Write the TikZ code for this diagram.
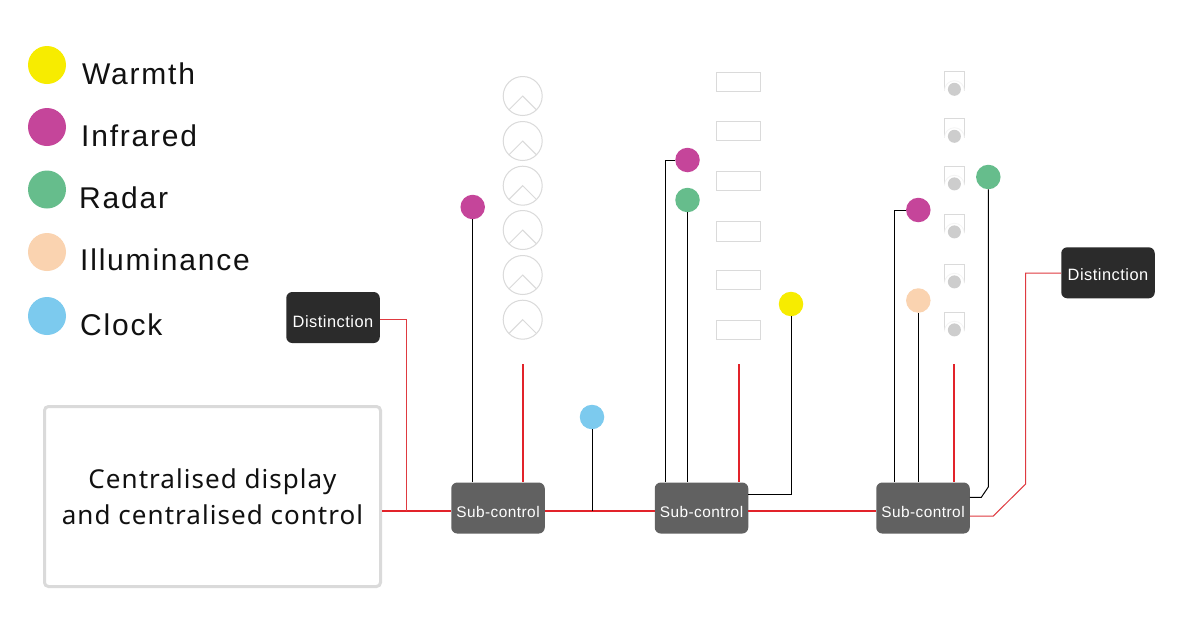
\documentclass[tikz,border=0pt]{standalone}
\usepackage{fontspec}
\setmainfont{Liberation Sans}
\newfontfamily\legendfont[LetterSpace=6]{Liberation Sans}
\newfontfamily\centralfont[LetterSpace=4]{Noto Sans}
\newfontfamily\boxfont[LetterSpace=3]{Liberation Sans}
\definecolor{cMag}{HTML}{C5459A}
\definecolor{cGrn}{HTML}{66BD8C}
\definecolor{cYel}{HTML}{F7EC00}
\definecolor{cPch}{HTML}{FAD3B0}
\definecolor{cBlu}{HTML}{7CCAEE}
\definecolor{cRed}{HTML}{E2232A}
\definecolor{cThin}{HTML}{DF3A40}
\definecolor{cGhost}{HTML}{DADADA}
\definecolor{cSub}{HTML}{616161}
\definecolor{cDark}{HTML}{2B2B2B}
\definecolor{cTxt}{HTML}{111111}
\newcommand{\droptext}[2]{\smash{\raisebox{-#1pt}{#2}}}
\tikzset{
  dot/.style={circle,inner sep=0pt,minimum size=24.5pt,fill=#1},
  legdot/.style={circle,inner sep=0pt,minimum size=38pt,fill=#1},
  legtxt/.style={anchor=base west,inner sep=0pt,text=cTxt,font=\legendfont\fontsize{30}{34}\selectfont},
  subbox/.style={rectangle,rounded corners=6pt,fill=cSub,minimum width=93.5pt,minimum height=51pt,inner sep=0pt,text=white,font=\boxfont\fontsize{15.4}{17}\selectfont},
  disbox/.style={rectangle,rounded corners=6pt,fill=cDark,minimum width=93.5pt,minimum height=51pt,inner sep=0pt,text=white,font=\boxfont\fontsize{16.4}{17}\selectfont},
  bus/.style={cRed,line width=2pt},
  thin red/.style={cThin,line width=1pt},
  wire/.style={black,line width=1pt},
  ghost/.style={cGhost,line width=1pt},
}
\newcommand{\lampicon}[2]{%
  \draw[ghost] (#1,#2) circle (19.5);
  \draw[ghost] (#1-13.8,#2+13.8) -- (#1,#2) -- (#1+13.8,#2+13.8);
}
\newcommand{\panelicon}[2]{%
  \draw[ghost] (#1-10,#2+19) -- (#1-10,#2) -- (#1+10,#2) -- (#1+10,#2+19);
  \draw[cGhost!30,line width=0.8pt] (#1-10,#2+19) arc[start angle=180,end angle=360,radius=10];
  \fill[cGhost!85!gray] (#1,#2+17.6) circle (6.5);
}
\begin{document}
\begin{tikzpicture}[x=1pt,y=-1pt]
\useasboundingbox (0,0) rectangle (1195,627);
\fill[white] (0,0) rectangle (1195,627);
% legend
\node[legdot=cYel] (lw) at (47,65) {};
\node[legdot=cMag] (li) at (47,127) {};
\node[legdot=cGrn] (lr) at (47,189.5) {};
\node[legdot=cPch] (ll) at (47,252) {};
\node[legdot=cBlu] (lc) at (47,316) {};
\node[legtxt] (tw) at (82,84) {Warmth};
\node[legtxt] (ti) at (81,146) {Infrared};
\node[legtxt] (tr) at (79,208) {Radar};
\node[legtxt] (tl) at (80,270) {Illuminance};
\node[legtxt] (tc) at (80,335) {Clock};
% main boxes
\node[draw=cGhost,line width=3pt,rounded corners=4pt,minimum width=336pt,minimum height=180pt,inner sep=0pt,align=center,text=cTxt,
  font=\centralfont\fontsize{26}{36}\selectfont] (central) at (212.5,496.5) {Centralised display\\and centralised control};
\node[subbox] (s1) at (498,508) {\droptext{9}{Sub-control}};
\node[subbox] (s2) at (701.5,508) {\droptext{9}{Sub-control}};
\node[subbox] (s3) at (923,508) {\droptext{9}{Sub-control}};
\node[disbox] (d1) at (333,317.5) {\droptext{9.5}{Distinction}};
\node[disbox] (d2) at (1108,272.8) {\droptext{7.2}{Distinction}};
% icons
\foreach \y in {96,141,185.7,230,275,319.7} {\lampicon{522.7}{\y}}
\foreach \a/\b in {72.3/91.7,121.3/140.3,171.3/190.3,221.7/241,270/289,320.3/339.3}
  {\draw[ghost] (716,\a) rectangle (760.7,\b);}
\foreach \y in {71.7,118.7,166.3,214.3,264.3,312.3} {\panelicon{954.4}{\y}}
% sensors
\node[dot=cMag] (a1) at (472.7,207) {};
\node[dot=cBlu] (c1) at (592,417) {};
\node[dot=cMag] (a2) at (687.5,160) {};
\node[dot=cGrn] (g2) at (687.5,200) {};
\node[dot=cYel] (y2) at (791,304) {};
\node[dot=cMag] (a3) at (918.3,210) {};
\node[dot=cPch] (p3) at (918.3,300.5) {};
\node[dot=cGrn] (g3) at (988.3,177) {};
% helper coordinates
\coordinate (busy) at (0,511);
\coordinate (j1) at (592,511);
\coordinate (j0) at (406,511);
\coordinate (r1) at (522.7,364);
\coordinate (r2) at (738.5,364);
\coordinate (r3) at (954.4,364);
\coordinate (ax2) at (665,160);
\coordinate (ax3) at (894,210);
% bus
\draw[bus] (central.east |- busy) -- (s1.west |- busy);
\draw[bus] (s1.east |- busy) -- (s2.west |- busy);
\draw[bus] (s2.east |- busy) -- (s3.west |- busy);
\draw[bus] (r1) -- (r1 |- s1.north);
\draw[bus] (r2) -- (r2 |- s2.north);
\draw[bus] (r3) -- (r3 |- s3.north);
% thin red
\draw[thin red] (d1.east |- 0,319) -- (406,319) -- (j0);
\draw[thin red] (s3.east |- 0,516) -- (993.3,516) -- (1025.7,484) -- (1025.7,273) -- (d2.west |- 0,273);
% wires
\draw[wire] (a1.south) -- (a1.south |- s1.north);
\draw[wire] (c1.south) -- (j1);
\draw[wire] (a2.west) -- (ax2) -- (ax2 |- s2.north);
\draw[wire] (g2.south) -- (g2.south |- s2.north);
\draw[wire] (y2.south) -- (791,494.5) -- (s2.east |- 0,494.5);
\draw[wire] (a3.west) -- (ax3) -- (ax3 |- s3.north);
\draw[wire] (p3.south) -- (p3.south |- s3.north);
\draw[wire] (g3.south) -- (988.3,487) -- (981.3,497.3) -- (s3.east |- 0,497.3);
\end{tikzpicture}
\end{document}
